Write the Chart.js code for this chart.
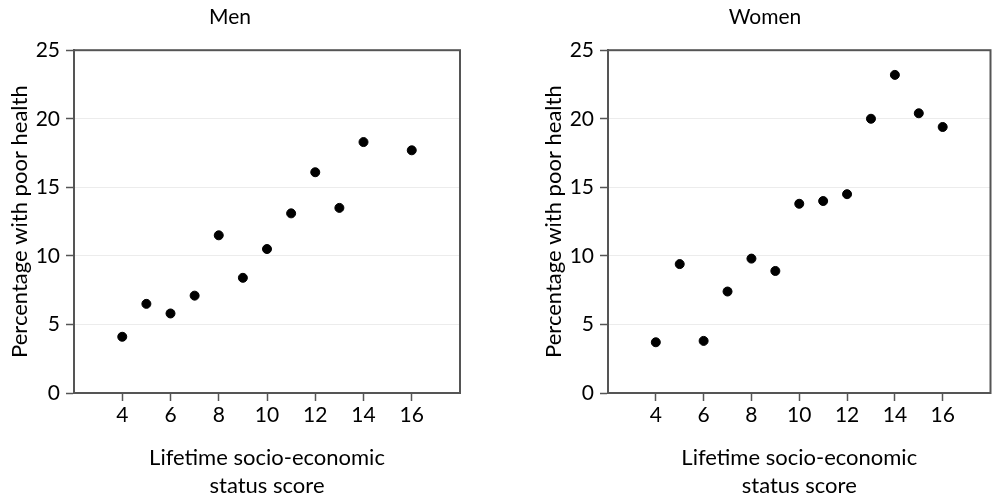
<!DOCTYPE html>
<html>
<head>
<meta charset="utf-8">
<script src="https://cdn.jsdelivr.net/npm/chart.js@4"></script>
<style>
  html, body { margin: 0; padding: 0; background: #fff; overflow: hidden; }
  #wrap { position: relative; width: 993px; height: 498px; overflow: hidden; }
  .panel { position: absolute; top: 0; height: 498px; }
  #men-box { left: 0; width: 534px; }
  #women-box { left: 534px; width: 462px; }
</style>
</head>
<body>
<div id="wrap">
  <div class="panel" id="men-box"><canvas id="men"></canvas></div>
  <div class="panel" id="women-box"><canvas id="women"></canvas></div>
</div>
<script>
// socio-economic score (x) and percentage with poor health (y)
const menScores = [4, 5, 6, 7, 8, 9, 10, 11, 12, 13, 14, 16];
const menPoorHealth = [4.1, 6.5, 5.8, 7.1, 11.5, 8.4, 10.5, 13.1, 16.1, 13.5, 18.3, 17.7];

const womenScores = [4, 5, 6, 7, 8, 9, 10, 11, 12, 13, 14, 15, 16];
const womenPoorHealth = [3.7, 9.4, 3.8, 7.4, 9.8, 8.9, 13.8, 14.0, 14.5, 20.0, 23.2, 20.4, 19.4];

const xTickValues = [4, 6, 8, 10, 12, 14, 16];
const yTickValues = [0, 5, 10, 15, 20, 25];

const fontFamily = 'Lato, "Open Sans", sans-serif';
const axisColor = '#555555';
const textColor = '#000000';

// draw the box around the plot area
const frame = {
    id: 'frame',
    afterDraw(chart) {
        const a = chart.chartArea;
        const ctx = chart.ctx;
        ctx.save();
        ctx.strokeStyle = axisColor;
        ctx.lineWidth = 2;
        ctx.strokeRect(a.left, a.top, a.right - a.left, a.bottom - a.top);
        ctx.restore();
    }
};

function makeChart(id, title, xs, ys) {
    const points = xs.map((x, i) => ({ x: x, y: ys[i] }));
    return new Chart(document.getElementById(id), {
        type: 'scatter',
        data: {
            datasets: [{
                data: points,
                backgroundColor: '#000000',
                borderColor: '#000000',
                pointRadius: 4.5,
                pointHoverRadius: 4.5
            }]
        },
        options: {
            responsive: true,
            maintainAspectRatio: false,
            animation: false,
            layout: { padding: { left: 0, right: id === 'men' ? 74 : 0, top: 0, bottom: 0 } },
            plugins: {
                legend: { display: false },
                tooltip: { enabled: false },
                title: {
                    display: true,
                    text: title,
                    color: textColor,
                    font: { family: fontFamily, size: 21, weight: 'normal', lineHeight: 1.2 },
                    padding: { top: 5, bottom: 20 }
                }
            },
            scales: {
                x: {
                    type: 'linear',
                    min: 2,
                    max: 18,
                    afterBuildTicks: (scale) => { scale.ticks = xTickValues.map(v => ({ value: v })); },
                    afterFit: (scale) => { scale.height = 105; },
                    grid: { drawOnChartArea: false, tickLength: 8, tickColor: axisColor, tickWidth: 1.5 },
                    border: { color: axisColor, width: 2 },
                    ticks: { color: textColor, font: { family: fontFamily, size: 21 }, padding: 2 },
                    title: {
                        display: true,
                        text: ['Lifetime socio-economic', 'status score'],
                        color: textColor,
                        font: { family: fontFamily, size: 22, lineHeight: 1.27 },
                        padding: { top: 0, bottom: -2 }
                    }
                },
                y: {
                    type: 'linear',
                    min: 0,
                    max: 25,
                    afterBuildTicks: (scale) => { scale.ticks = yTickValues.map(v => ({ value: v })); },
                    afterFit: (scale) => { scale.width = 74; },
                    grid: { color: '#ececec', tickLength: 8, tickColor: axisColor, tickWidth: 1.5 },
                    border: { color: axisColor, width: 2 },
                    ticks: { color: textColor, font: { family: fontFamily, size: 21 }, padding: 6 },
                    title: {
                        display: true,
                        text: 'Percentage with poor health',
                        color: textColor,
                        font: { family: fontFamily, size: 22, lineHeight: 1.2 },
                        padding: { top: 7, bottom: 0 }
                    }
                }
            }
        },
        plugins: [frame]
    });
}

makeChart('men', 'Men', menScores, menPoorHealth);
makeChart('women', 'Women', womenScores, womenPoorHealth);
</script>
</body>
</html>
